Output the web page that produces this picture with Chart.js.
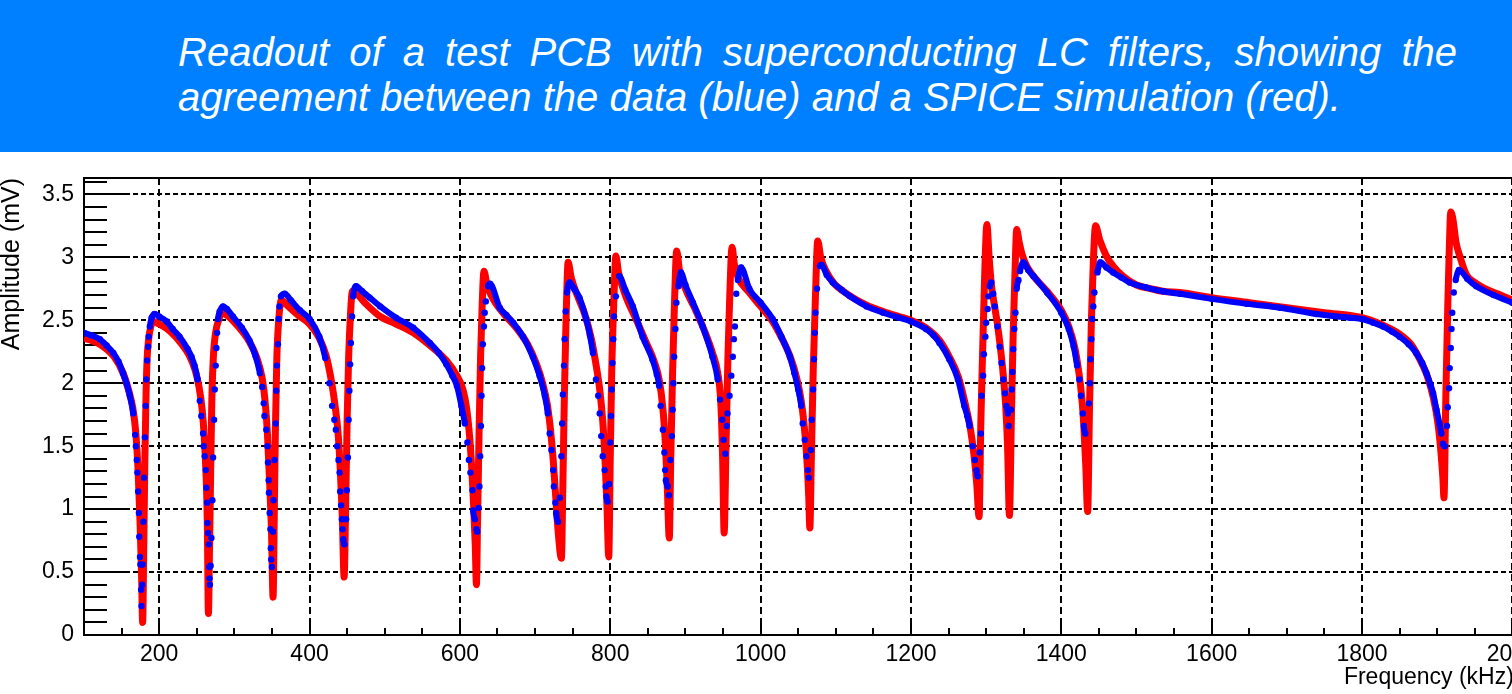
<!DOCTYPE html>
<html>
<head>
<meta charset="utf-8">
<title>LC filter readout</title>
<script src="https://cdn.jsdelivr.net/npm/chart.js@4.4.1/dist/chart.umd.min.js"></script>
<style>
  html, body { margin: 0; padding: 0; width: 1512px; height: 694px; overflow: hidden; background: #fff; }
  #banner { position: absolute; left: 0; top: 0; width: 1512px; height: 152px; background: #0080ff; }
  #banner div { position: absolute; left: 178px; width: 1279px; color: #fff; white-space: nowrap;
    font: italic 40px "Liberation Sans", Arial, sans-serif; line-height: 45px; }
  #l1 { top: 30px; text-align: justify; text-align-last: justify; white-space: normal !important; }
  #l2 { top: 75px; }
  #plot { position: absolute; left: 0; top: 152px; width: 1544px; height: 542px; }
</style>
</head>
<body>
<div id="banner">
  <div id="l1">Readout of a test PCB with superconducting LC filters, showing the</div>
  <div id="l2">agreement between the data (blue) and a SPICE simulation (red).</div>
</div>
<div id="plot"><canvas id="myChart"></canvas></div>
<script>
// measured data (blue dots), kHz / mV
const freqData = [100,110,121,130,139,146,152,157,161,165.5,168,169,170.2,171,172,173,173.5,174.5,175,176,176.5,177.5,178,179,180,181,182,183,184,185.4,186,187.6,190,194,200,210,218,227,238,243,247,251,254,256,258.4,259.3,260.6,262,262.8,263.7,264.2,265,266,266.6,267,267.5,268.5,269.5,270.8,271.7,273,273.9,275.2,276.1,277,278.3,280.5,285,290,298,310,320,328,334,337,339,340,342.5,344,344.7,345.6,346,347,348,348.5,349,350,351.3,352,353.5,355,355.8,356.6,358,359,360,362,367,375,387,400,413,421,426.5,430,433,435,436.7,438.5,440,440.7,442,443,444,445,446.5,448.7,449.6,451,452,453,454,455,456.6,458,462,470,480,494,515,538,560,572,582,590,596,602,606.6,610,612,614,616.8,617.7,620,622,623,625,626,627,628,628.8,629.6,630.5,632,633,634.5,637.6,640,653,662,671,684,697,706,713,717,719.5,721.7,724,725,727,728,730.6,733,735,736,737,738.5,739.3,740.7,742.5,746,752,759,768,773,777,781,784,786,788,790,792.5,794,795,796.5,798.5,800,801,802,803,804,805,807.5,812,820,830,843,856,862,865,867,870,872,873,874,876.4,878,880,882,883,884,885,886.7,888,890.7,894,900,910,923,936,943,946,949,950.7,953,955,956,958.7,961,963,964.4,965.8,967.6,969.8,974,985,1000,1016,1027.6,1039,1045,1050,1054,1056,1058.7,1061,1063,1064,1066.7,1068,1069.8,1071,1072,1073,1075,1079,1081,1088,1096,1108,1119,1141,1163,1184,1200,1220,1230,1238,1251,1262.5,1271,1275,1278,1282,1285,1287,1289,1291.5,1293,1294,1296,1297,1299,1300,1302,1303,1305,1307,1309.5,1311.6,1315,1318,1320.5,1322.8,1325,1327,1329,1330,1333,1334,1335,1336,1337.5,1339,1340.6,1343,1345,1349.5,1356,1363,1381,1400,1410,1416.5,1421,1424,1426,1428.6,1430,1432,1436.6,1438,1439,1440,1441,1442.6,1444,1448,1452,1460,1469,1480,1491,1513,1535,1558,1600,1647,1691,1739,1784,1800,1815,1828,1840,1850,1862,1872,1880,1885.6,1891,1894.5,1899,1903,1905.5,1907.7,1910,1913,1914,1915.7,1916.6,1918,1919,1920,1922,1924.6,1929,1940,1952,1975,2000];
const ampData = [2.40,2.38,2.35,2.30,2.24,2.17,2.08,1.99,1.90,1.76,1.59,1.50,1.39,1.29,1.14,0.97,0.78,0.62,0.56,0.36,0.23,0.40,0.56,0.90,1.25,1.57,1.82,2.03,2.18,2.29,2.37,2.45,2.52,2.55,2.53,2.49,2.43,2.37,2.27,2.21,2.14,2.03,1.86,1.74,1.60,1.50,1.42,1.31,1.17,1.05,0.89,0.81,0.72,0.54,0.45,0.40,0.55,0.77,1.07,1.41,1.71,1.95,2.14,2.28,2.40,2.51,2.57,2.61,2.59,2.53,2.44,2.34,2.22,2.08,1.97,1.84,1.74,1.63,1.50,1.37,1.23,1.13,0.97,0.84,0.69,0.60,0.54,0.82,1.07,1.39,1.68,1.94,2.14,2.31,2.51,2.61,2.69,2.71,2.66,2.58,2.51,2.37,2.20,2.00,1.82,1.71,1.63,1.50,1.39,1.29,1.14,1.03,0.92,0.84,0.76,0.72,0.92,1.15,1.41,1.71,1.94,2.15,2.32,2.53,2.69,2.77,2.73,2.68,2.61,2.52,2.44,2.32,2.24,2.15,2.06,1.98,1.82,1.68,1.53,1.39,1.29,1.15,0.99,0.92,0.84,0.82,1.01,1.18,1.42,1.66,1.90,2.12,2.31,2.45,2.56,2.65,2.77,2.79,2.60,2.54,2.48,2.37,2.21,2.06,1.90,1.76,1.60,1.47,1.31,1.18,1.05,0.97,0.90,1.09,1.42,1.68,1.91,2.14,2.35,2.57,2.72,2.80,2.75,2.68,2.51,2.38,2.24,2.03,1.90,1.76,1.58,1.42,1.31,1.18,1.10,1.06,1.20,1.53,1.74,1.95,2.16,2.35,2.53,2.69,2.85,2.74,2.61,2.37,2.19,2.07,1.98,1.82,1.63,1.45,1.31,1.23,1.18,1.11,1.39,1.58,1.79,2.00,2.21,2.43,2.64,2.77,2.88,2.78,2.64,2.45,2.21,2.03,1.87,1.71,1.55,1.44,1.66,1.76,1.90,2.06,2.21,2.35,2.45,2.71,2.82,2.92,2.75,2.64,2.51,2.37,2.21,2.08,1.95,1.82,1.68,1.55,1.42,1.31,1.25,1.47,1.71,1.95,2.19,2.40,2.56,2.75,2.93,2.94,2.86,2.80,2.74,2.69,2.61,2.56,2.52,2.49,2.43,2.38,2.32,2.19,2.03,1.82,1.74,1.66,1.50,1.39,1.31,1.26,1.45,1.60,1.90,2.06,2.23,2.37,2.48,2.59,2.69,2.77,2.80,2.71,2.61,2.45,2.29,2.16,2.03,1.92,1.82,1.76,1.66,1.79,1.95,2.09,2.27,2.43,2.56,2.75,2.82,2.89,2.96,2.90,2.85,2.72,2.56,2.43,2.29,2.14,2.03,1.90,1.76,1.66,1.60,1.84,2.00,2.19,2.35,2.51,2.61,2.72,2.88,2.96,2.92,2.88,2.84,2.80,2.76,2.73,2.71,2.67,2.63,2.60,2.55,2.52,2.51,2.48,2.45,2.41,2.37,2.31,2.24,2.16,2.08,1.99,1.92,1.79,1.68,1.60,1.52,1.50,1.66,1.81,1.96,2.12,2.28,2.43,2.56,2.72,2.82,2.90,2.83,2.77,2.70,2.64];

// SPICE simulation (red line)
const freqSim = [100,121,140,152,160,165,169,172,174.5,176.5,178,179.5,181,182.5,184,186,188.5,192,200,215,230,240,248,253,257,260,262.5,264,265.5,267,268.5,270,272,275,279,283,290,305,320,330,337,341,344,347,349.5,351.5,353,354.5,356.5,359,362.5,370,385,400,412,422,429,434,438,441,443.5,446,448,450,452,454.5,457,463,475,494,515,538,560,582,596,604,609,613,616,618.5,620.5,622,623.5,625.5,627.5,629.5,632,636,645,660,675,690,702,710,716,720,724,728,731,735,737,739,741,744,748,756,766,775,781,786,790,793,795.5,798,800,802,804.5,807.5,811,820,835,848,858,865,870,873.5,876,878.5,880.5,883,885.5,888.4,892,900,912,925,936,943,947,949.5,951.5,954,956.5,959,962,965,970,985,1000,1016,1028,1040,1048,1054,1058,1061.5,1064,1065.5,1067.5,1070,1073,1076,1080,1088,1098,1110,1125,1141,1163,1184,1200,1220,1238,1251,1263,1272,1279,1284,1287.5,1290.6,1293,1296,1298.5,1301,1304,1307,1311,1315,1319,1323,1326,1328.5,1331,1333.5,1336,1338.5,1340.6,1344,1348,1354,1363,1381,1400,1410,1418,1423,1427,1430,1432.5,1435,1437.5,1440,1442.5,1445.5,1451,1460,1469,1482,1500,1520,1535,1558,1600,1650,1700,1750,1800,1828,1850,1865,1876,1886,1895,1901,1905,1907.5,1909,1911.5,1914,1916,1918,1921,1925,1930,1939,1950,1961,1980,2000];
const ampSim = [2.36,2.31,2.21,2.08,1.93,1.80,1.60,1.30,0.90,0.50,0.10,0.70,1.40,1.90,2.20,2.35,2.44,2.49,2.47,2.41,2.31,2.22,2.10,1.97,1.80,1.57,1.25,0.90,0.17,0.70,1.30,1.85,2.20,2.40,2.50,2.56,2.54,2.45,2.33,2.20,2.04,1.85,1.60,1.20,0.80,0.30,0.90,1.60,2.20,2.50,2.66,2.62,2.54,2.47,2.37,2.22,2.02,1.82,1.60,1.30,0.95,0.46,1.00,1.70,2.20,2.55,2.73,2.71,2.63,2.53,2.47,2.40,2.30,2.18,2.06,1.95,1.80,1.57,1.30,1.00,0.70,0.40,0.90,1.60,2.20,2.60,2.89,2.78,2.66,2.54,2.44,2.31,2.15,2.00,1.84,1.66,1.40,1.05,0.80,0.61,1.20,1.90,2.45,2.96,2.84,2.70,2.55,2.35,2.15,1.95,1.70,1.40,1.05,0.62,1.40,2.10,2.60,3.01,2.88,2.70,2.50,2.32,2.18,2.03,1.80,1.50,1.15,0.77,1.40,2.10,2.65,3.05,2.90,2.75,2.60,2.42,2.24,2.08,1.85,1.40,0.81,1.50,2.20,2.70,3.08,2.95,2.84,2.72,2.61,2.49,2.36,2.20,2.04,1.86,1.66,1.40,1.10,0.85,1.40,2.10,2.70,3.13,3.00,2.88,2.79,2.73,2.67,2.62,2.57,2.53,2.50,2.44,2.34,2.21,2.05,1.84,1.64,1.42,1.20,0.94,1.70,2.40,2.95,3.26,3.00,2.78,2.62,2.47,2.28,2.05,1.82,1.50,0.95,1.70,2.40,2.90,3.22,3.12,3.02,2.93,2.85,2.73,2.58,2.45,2.28,2.10,1.90,1.65,1.35,0.98,1.80,2.50,2.95,3.25,3.14,3.01,2.93,2.85,2.78,2.75,2.73,2.72,2.68,2.64,2.60,2.56,2.52,2.46,2.39,2.31,2.20,2.07,1.88,1.68,1.45,1.25,1.09,1.90,2.60,3.05,3.36,3.30,3.12,3.01,2.86,2.80,2.76,2.71,2.66];

const xTicks = [200,400,600,800,1000,1200,1400,1600,1800,2000];
const yTicks = [0,0.5,1,1.5,2,2.5,3,3.5];

const blue = 'rgb(0,0,255)';
const red = 'rgb(255,0,0)';

// ROOT style inner tick marks + top frame
const rootFrame = {
  id: 'rootFrame',
  beforeDatasetsDraw(chart) {
    const {ctx, chartArea: a, scales: {x, y}} = chart;
    ctx.save();
    ctx.strokeStyle = '#000';
    ctx.lineWidth = 2;
    ctx.beginPath();
    for (let i = 0; i <= 36; i++) {
      const py = Math.round(y.getPixelForValue(i / 10));
      ctx.moveTo(a.left, py);
      ctx.lineTo(a.left + (i % 5 === 0 ? 42 : 23), py);
    }
    for (let v = 100; v <= x.max; v += 50) {
      const px = Math.round(x.getPixelForValue(v));
      ctx.moveTo(px, a.bottom);
      ctx.lineTo(px, a.bottom - (v % 200 === 0 ? 13 : 7));
    }
    ctx.moveTo(a.left, a.top);
    ctx.lineTo(a.right, a.top);
    ctx.stroke();
    ctx.restore();
  }
};

Chart.defaults.font.family = '"Liberation Sans", Arial, sans-serif';
Chart.defaults.font.size = 23;
Chart.defaults.color = '#000';

const config = {
  type: 'line',
  data: {
    datasets: [{
      label: 'Data',
      data: freqData.map((f, i) => ({x: f, y: ampData[i]})),
      borderColor: blue,
      backgroundColor: blue,
      borderWidth: 6,
      pointRadius: 3.2,
      pointBorderWidth: 0,
      pointBackgroundColor: blue,
      cubicInterpolationMode: 'monotone',
      segment: {
        // steep parts show as single dots, like the scan points
        borderColor: c => Math.abs((c.p1.parsed.y - c.p0.parsed.y) / (c.p1.parsed.x - c.p0.parsed.x)) > 0.035 ? 'rgba(0,0,255,0)' : blue
      },
      order: 0
    }, {
      label: 'SPICE',
      data: freqSim.map((f, i) => ({x: f, y: ampSim[i]})),
      borderColor: red,
      borderWidth: 7,
      pointRadius: 0,
      cubicInterpolationMode: 'monotone',
      order: 1
    }]
  },
  options: {
    responsive: true,
    maintainAspectRatio: false,
    animation: false,
    layout: { padding: { top: 26, right: 30, bottom: 0, left: 0 } },
    plugins: { legend: { display: false }, tooltip: { enabled: false } },
    scales: {
      x: {
        type: 'linear',
        min: 100,
        max: 2002,
        afterBuildTicks: s => { s.ticks = xTicks.map(v => ({value: v})); },
        afterFit: s => { s.height = 59; },
        ticks: { padding: 6, maxRotation: 0, autoSkip: false, callback: v => String(v) },
        grid: { color: '#000', lineWidth: 2, drawTicks: false },
        border: { color: '#000', width: 2, dash: [7, 4] },
        title: { display: true, text: 'Frequency (kHz)', align: 'end', padding: { top: 0, bottom: 3 } }
      },
      y: {
        min: 0,
        max: 3.63,
        afterBuildTicks: s => { s.ticks = yTicks.map(v => ({value: v})); },
        afterFit: s => { s.width = 84; },
        ticks: { padding: 10, callback: v => String(v) },
        grid: { color: '#000', lineWidth: 2, drawTicks: false },
        border: { color: '#000', width: 2, dash: [5, 3] },
        title: { display: true, text: 'Amplitude (mV)', align: 'end', padding: { top: 0, bottom: 0 }, font: { size: 25, lineHeight: 1 } }
      }
    }
  },
  plugins: [rootFrame]
};

const myChart = new Chart(document.getElementById('myChart'), config);
</script>
</body>
</html>
